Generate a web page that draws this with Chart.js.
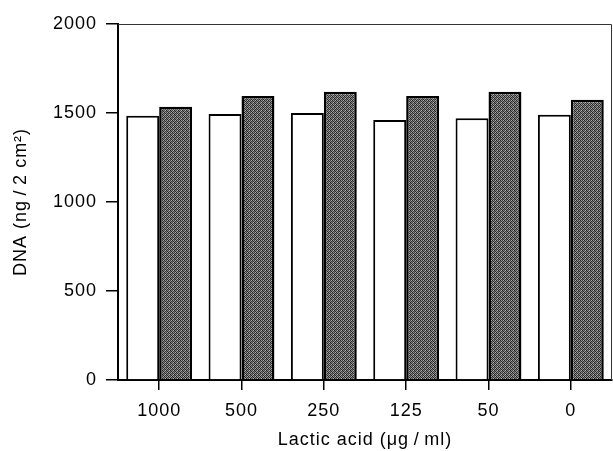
<!DOCTYPE html>
<html>
<head>
<meta charset="utf-8">
<script src="https://cdn.jsdelivr.net/npm/chart.js@4"></script>
<style>
  body { margin: 0; background: #fff; }
  #wrap { width: 613px; height: 451px; }
</style>
</head>
<body>
<div id="wrap"><canvas id="dna-chart" width="613" height="451"></canvas></div>
<script>
// data
const categories = ['1000', '500', '250', '125', '50', '0'];
const controlValues = [1485, 1495, 1500, 1460, 1470, 1490];
const lacticValues = [1535, 1595, 1620, 1595, 1620, 1575];
const yTicks = [0, 500, 1000, 1500, 2000];

const FONT = { family: '"Liberation Sans", Arial, Helvetica, sans-serif', size: 18 };

// mottled grey fill like the printed halftone
function makePattern() {
    const shades = [
        [30, 150, 60, 170],
        [120, 40, 140, 50],
        [70, 180, 30, 130],
        [150, 60, 110, 40]
    ];
    const c = document.createElement('canvas');
    c.width = 4; c.height = 4;
    const g = c.getContext('2d');
    shades.forEach((row, y) => row.forEach((v, x) => {
        g.fillStyle = `rgb(${v},${v},${v})`;
        g.fillRect(x, y, 1, 1);
    }));
    return g.createPattern(c, 'repeat');
}

const frame = {
    id: 'frame',
    beforeDraw(chart) {
        chart.ctx.letterSpacing = '1px';
    },
    afterDraw(chart) {
        const { ctx, chartArea: a } = chart;
        ctx.save();
        ctx.strokeStyle = '#333';
        ctx.lineWidth = 1;
        ctx.beginPath();
        ctx.moveTo(a.left, a.top + 0.5);
        ctx.lineTo(a.right - 0.5, a.top + 0.5);
        ctx.lineTo(a.right - 0.5, a.bottom);
        ctx.stroke();
        ctx.restore();
    }
};

new Chart(document.getElementById('dna-chart'), {
    type: 'bar',
    data: {
        labels: categories,
        datasets: [
            {
                label: 'Control',
                data: controlValues,
                backgroundColor: '#fff',
                borderColor: '#000',
                borderWidth: 2,
                categoryPercentage: 0.8,
                barPercentage: 1.0
            },
            {
                label: 'Lactic acid',
                data: lacticValues,
                backgroundColor: makePattern(),
                borderColor: '#000',
                borderWidth: 2.5,
                categoryPercentage: 0.8,
                barPercentage: 1.0
            }
        ]
    },
    options: {
        responsive: false,
        devicePixelRatio: 1,
        animation: false,
        layout: { padding: { top: 24, right: 1, left: 0, bottom: 0 } },
        plugins: {
            legend: { display: false },
            tooltip: { enabled: false }
        },
        scales: {
            x: {
                grid: {
                    offset: false,
                    drawOnChartArea: false,
                    drawTicks: true,
                    tickLength: 10,
                    color: '#000',
                    lineWidth: 1.5
                },
                border: { display: true, color: '#000', width: 2 },
                ticks: { color: '#000', font: FONT, padding: 10, maxRotation: 0 },
                title: {
                    display: true,
                    text: 'Lactic acid (μg\u2009/\u2009ml)',
                    color: '#000',
                    font: FONT,
                    padding: { top: 6, bottom: 0 }
                },
                afterFit(scale) { scale.height = 71; }
            },
            y: {
                min: 0,
                max: 2000,
                afterBuildTicks(scale) {
                    scale.ticks = yTicks.map(v => ({ value: v }));
                },
                grid: {
                    drawOnChartArea: false,
                    drawTicks: true,
                    tickLength: 12,
                    color: '#000',
                    lineWidth: 1.5
                },
                border: { display: true, color: '#000', width: 2 },
                ticks: {
                    color: '#000',
                    font: FONT,
                    padding: 9,
                    callback: v => String(v)
                },
                title: {
                    display: true,
                    text: 'DNA (ng\u2009/\u20092 cm²)',
                    color: '#000',
                    font: FONT,
                    padding: { top: 10, bottom: 0 }
                },
                afterFit(scale) { scale.width = 118; }
            }
        }
    },
    plugins: [frame]
});
</script>
</body>
</html>
